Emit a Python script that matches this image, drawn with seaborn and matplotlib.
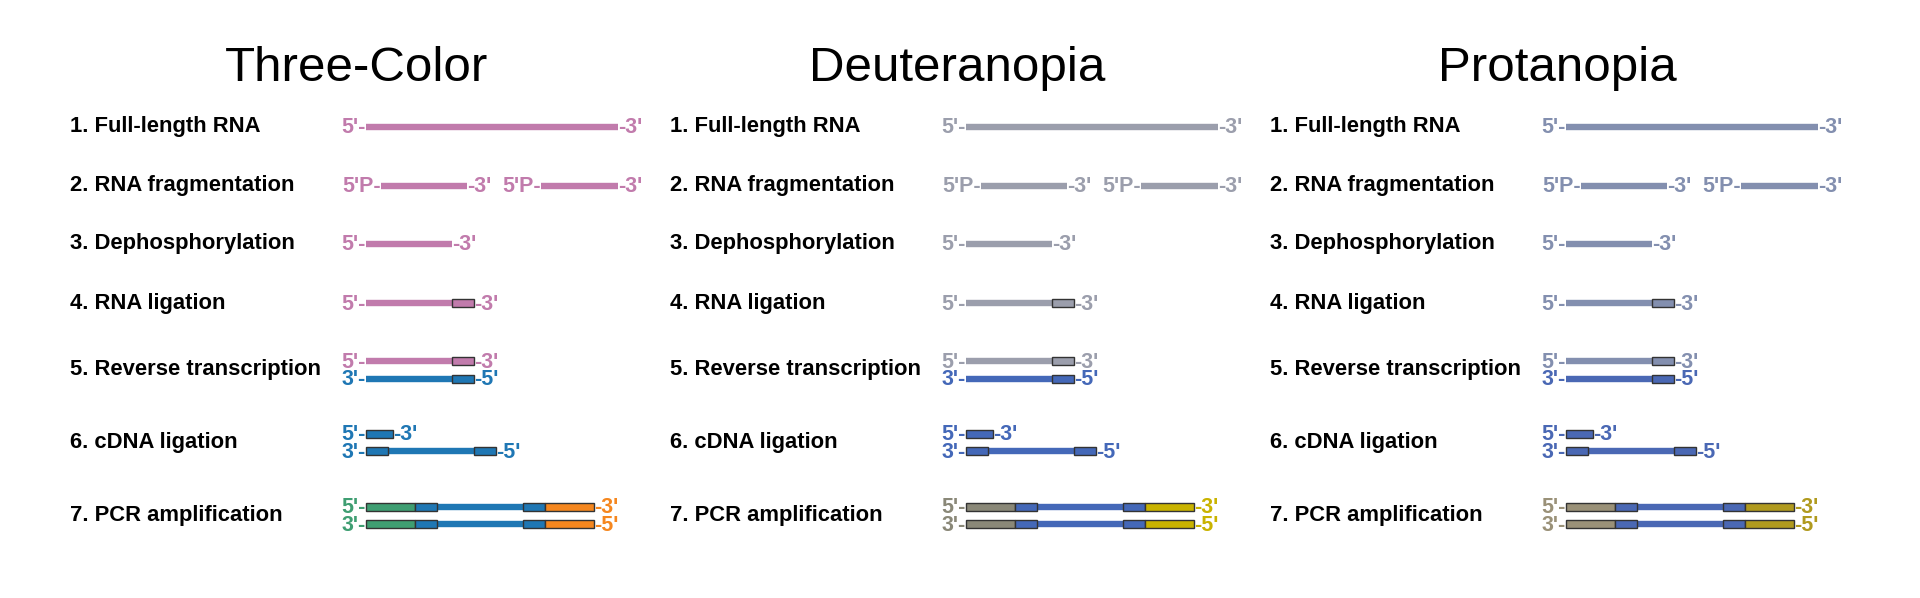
import matplotlib
matplotlib.use("Agg")
import matplotlib.pyplot as plt
import pandas as pd
import seaborn as sns

sns.set_theme(style="white")
plt.rcParams["font.family"] = ["Liberation Sans", "DejaVu Sans"]

# ---- content -------------------------------------------------------------
PANEL_TITLES = ["Three-Color", "Deuteranopia", "Protanopia"]
STEP_LABELS = [
    "1. Full-length RNA",
    "2. RNA fragmentation",
    "3. Dephosphorylation",
    "4. RNA ligation",
    "5. Reverse transcription",
    "6. cDNA ligation",
    "7. PCR amplification",
]

# strand colours per panel (normal vision, deuteranopia, protanopia)
RNA_COLORS = ["#c17bac", "#9b9eac", "#838faf"]
CDNA_COLORS = ["#1f77b4", "#4468b8", "#4a68b4"]
FWD_COLORS = ["#3f9e72", "#8a8878", "#9a9178"]
REV_COLORS = ["#f5871f", "#c9b300", "#b09a1e"]

# segment extents (start, end) along a strand, measured from the strand start
FULL_RNA = [(0, 252)]
FRAGMENTS = [(15, 101), (175, 252)]
DEPHOS_RNA = [(0, 86)]
RNA_INSERT = [(0, 86)]
ADAPTER_3P = [(86, 108)]
CDNA_ADAPTER_5P = [(0, 27)]
CDNA_ENDS = [(0, 22), (108, 130)]
CDNA_INSERT = [(22, 108)]
PCR_FWD = [(0, 49)]
PCR_ADAPTERS = [(49, 71), (157, 179)]
PCR_INSERT = [(71, 157)]
PCR_REV = [(179, 228)]

# ---- layout (pixels) -----------------------------------------------------
W, H = 1920, 598
ROW_Y = [126.5, 185.5, 244, 303, 370, 442.5, 515.5]
LANE_HALF = 8.8
PANEL_STEP = 600
LABEL_X = 70
STRAND_X = 366
TITLE_X = 357
TITLE_Y = 81
LINE_W = 4.6
BOX_H = 8
EDGE = "#333333"


def panel_strands(p):
    """(step, lane, left text, right text, left colour, right colour, lines, boxes)"""
    rna, cdna, fwd, rev = RNA_COLORS[p], CDNA_COLORS[p], FWD_COLORS[p], REV_COLORS[p]
    out = [(0, 0, "5'-", "-3'", rna, rna, [(s, rna) for s in FULL_RNA], [])]
    for s in FRAGMENTS:
        out.append((1, 0, "5'P-", "-3'", rna, rna, [(s, rna)], []))
    out.append((2, 0, "5'-", "-3'", rna, rna, [(s, rna) for s in DEPHOS_RNA], []))
    out.append((3, 0, "5'-", "-3'", rna, rna,
                [(s, rna) for s in RNA_INSERT], [(s, rna) for s in ADAPTER_3P]))
    out.append((4, -1, "5'-", "-3'", rna, rna,
                [(s, rna) for s in RNA_INSERT], [(s, rna) for s in ADAPTER_3P]))
    out.append((4, 1, "3'-", "-5'", cdna, cdna,
                [(s, cdna) for s in RNA_INSERT], [(s, cdna) for s in ADAPTER_3P]))
    out.append((5, -1, "5'-", "-3'", cdna, cdna, [], [(s, cdna) for s in CDNA_ADAPTER_5P]))
    out.append((5, 1, "3'-", "-5'", cdna, cdna,
                [(s, cdna) for s in CDNA_INSERT], [(s, cdna) for s in CDNA_ENDS]))
    for lane, lt, rt in [(-1, "5'-", "-3'"), (1, "3'-", "-5'")]:
        boxes = ([(s, fwd) for s in PCR_FWD] + [(s, cdna) for s in PCR_ADAPTERS]
                 + [(s, rev) for s in PCR_REV])
        out.append((6, lane, lt, rt, fwd, rev, [(s, cdna) for s in PCR_INSERT], boxes))
    return out


fig = plt.figure(figsize=(W / 100, H / 100), dpi=100)
ax = fig.add_axes([0, 0, 1, 1])

line_rows = []
box_rows = []
seg_id = 0
for p, title in enumerate(PANEL_TITLES):
    px = p * PANEL_STEP
    ax.text(px + TITLE_X, TITLE_Y, title, fontsize=35.5, ha="center", va="baseline",
            color="black")
    for i, lab in enumerate(STEP_LABELS):
        ax.text(px + LABEL_X, ROW_Y[i], lab, fontsize=15.8, fontweight="bold",
                ha="left", va="center", color="black")
    for step, lane, lt, rt, lc, rc, lines, boxes in panel_strands(p):
        y = ROW_Y[step] + lane * LANE_HALF
        x0 = px + STRAND_X
        for (a, b), c in lines:
            line_rows.append({"x": x0 + a, "y": y, "seg": seg_id, "color": c})
            line_rows.append({"x": x0 + b, "y": y, "seg": seg_id, "color": c})
            seg_id += 1
        for (a, b), c in boxes:
            box_rows.append({"left": x0 + a, "width": b - a, "y": y, "color": c})
        ends = [s for s, _ in lines] + [s for s, _ in boxes]
        start = min(a for a, _ in ends)
        stop = max(b for _, b in ends)
        ax.text(x0 + start, y + 6.5, lt, fontsize=15.5, fontweight="bold", color=lc,
                ha="right", va="baseline")
        ax.text(x0 + stop, y + 6.5, rt, fontsize=15.5, fontweight="bold", color=rc,
                ha="left", va="baseline")

lines_df = pd.DataFrame(line_rows)
boxes_df = pd.DataFrame(box_rows)

sns.lineplot(data=lines_df, x="x", y="y", units="seg", estimator=None, hue="color",
             palette={c: c for c in lines_df["color"].unique()}, linewidth=LINE_W,
             sort=False, legend=False, solid_capstyle="butt", ax=ax)
ax.barh(boxes_df["y"], boxes_df["width"], left=boxes_df["left"], height=BOX_H,
        color=boxes_df["color"], edgecolor=EDGE, linewidth=1.0, zorder=3)

ax.set_xlim(0, W)
ax.set_ylim(H, 0)
ax.axis("off")
fig.savefig("out.png", dpi=100, facecolor="white")
